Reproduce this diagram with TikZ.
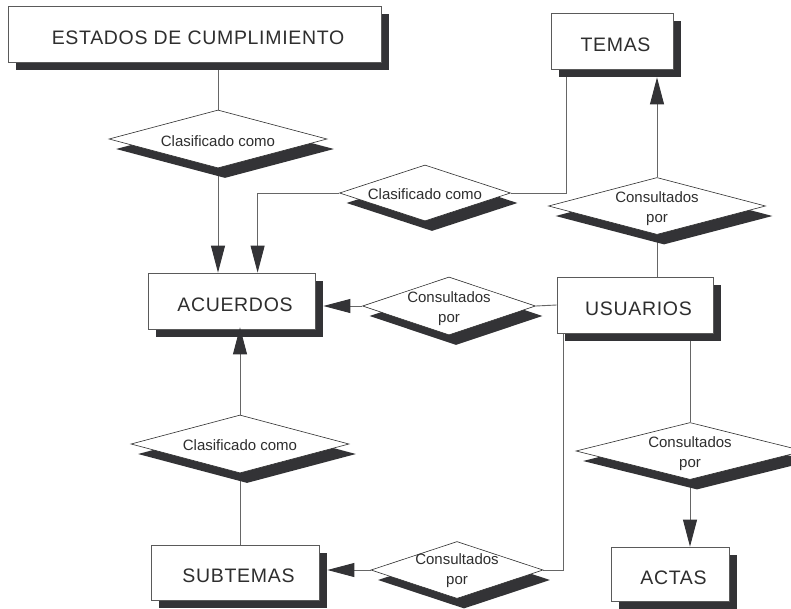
\documentclass[tikz,border=0pt]{standalone}
\usepackage{fontspec}
\setmainfont{Liberation Sans}
\usetikzlibrary{shapes.geometric,shadows,arrows.meta,backgrounds}
\definecolor{shadowc}{HTML}{333336}
\definecolor{linec}{HTML}{666666}
\definecolor{boxline}{HTML}{5A5A5A}
\definecolor{txtc}{HTML}{2E2E2E}
\begin{document}
\begin{tikzpicture}[x=1pt,y=-1pt,
  entity/.style={rectangle, draw=boxline, line width=0.8pt, fill=white, inner sep=0pt,
    font=\fontsize{19.5}{22}\selectfont\addfontfeature{LetterSpace=3.5}, text=txtc,
    text height=20pt, text depth=0pt, execute at begin node={\hspace*{7pt}},
    drop shadow={shadow xshift=8pt, shadow yshift=-8pt, fill=shadowc, opacity=1}},
  rel/.style={diamond, draw=txtc, line width=0.6pt, fill=white, inner sep=0pt,
    drop shadow={shadow xshift=7pt, shadow yshift=-10pt, fill=shadowc, opacity=1}},
  reltext/.style={font=\fontsize{15}{20}\selectfont, text=txtc, align=center, inner sep=0pt},
  conn/.style={draw=linec, line width=0.9pt},
  arr/.style={conn, -{Triangle[length=27pt,width=14pt,color=shadowc]}},
]
\useasboundingbox (0,0) rectangle (791,608);
\clip (0,0) rectangle (791,608);

% entities
\node[entity, minimum width=373pt, minimum height=56pt] (estados) at (194.5,34) {ESTADOS DE CUMPLIMIENTO};
\node[entity, minimum width=122pt, minimum height=56pt] (temas) at (612,41) {TEMAS};
\node[entity, minimum width=167pt, minimum height=56pt] (acuerdos) at (231.5,301) {ACUERDOS};
\node[entity, minimum width=156pt, minimum height=56pt] (usuarios) at (635,305) {USUARIOS};
\node[entity, minimum width=168pt, minimum height=55pt] (subtemas) at (235,572.5) {SUBTEMAS};
\node[entity, minimum width=118pt, minimum height=54pt] (actas) at (670,574) {ACTAS};

% relationships
\node[rel, minimum width=218pt, minimum height=58pt] (d1) at (218,139) {};
\node[reltext] (d1t) at ([yshift=-2pt]d1.center) {Clasificado como};
\node[rel, minimum width=171pt, minimum height=56pt] (d2) at (425,193) {};
\node[reltext] (d2t) at ([yshift=-1pt]d2.center) {Clasificado como};
\node[rel, minimum width=173pt, minimum height=58pt] (d3) at (449,306) {};
\node[reltext] (d3t) at ([yshift=-3pt]d3.center) {Consultados\\por};
\node[rel, minimum width=217pt, minimum height=57pt] (d4) at (657,206) {};
\node[reltext] (d4t) at ([yshift=-3pt]d4.center) {Consultados\\por};
\node[rel, minimum width=218pt, minimum height=58pt] (d5) at (240,444) {};
\node[reltext] (d5t) at ([yshift=-1pt]d5.center) {Clasificado como};
\node[rel, minimum width=228pt, minimum height=57pt] (d6) at (690,451) {};
\node[reltext] (d6t) at ([yshift=-3pt]d6.center) {Consultados\\por};
\node[rel, minimum width=172pt, minimum height=57pt] (d7) at (457,570) {};
\node[reltext] (d7t) at ([yshift=-1pt]d7.center) {Consultados\\por};

\begin{scope}[on background layer]
  \fill[white] (0,0) rectangle (791,608);
  \draw[conn] (estados.south -| d1.north) -- (d1.north);
  \draw[arr] (d1.south) -- (d1.south |- acuerdos.north);
  \draw[arr] (d2.west) -| ([xshift=110pt]acuerdos.north west);
  \draw[conn] (d2.east) -| ([xshift=16pt]temas.south west);
  \draw[arr, shorten >=8pt] (d4.north) -- (d4.north |- temas.south);
  \draw[conn] (d4.south) -- (d4.south |- usuarios.north);
  \draw[conn] (usuarios.west) -- (d3.east);
  \draw[arr, shorten >=8pt] (d3.west) -- (d3.west -| acuerdos.east);
  \draw[conn] ([xshift=7pt]usuarios.south west) |- (d7.east);
  \draw[arr, shorten >=8pt] (d7.west) -- (d7.west -| subtemas.east);
  \draw[conn] (d6.north |- usuarios.south) -- (d6.north);
  \draw[arr] (d6.south) -- (d6.south |- actas.north);
  \draw[conn] (d5.south |- subtemas.north) -- (d5.south);
\end{scope}
\draw[arr] (d5.north) -- ([yshift=2pt]d5.north |- acuerdos.south);
\end{tikzpicture}
\end{document}
